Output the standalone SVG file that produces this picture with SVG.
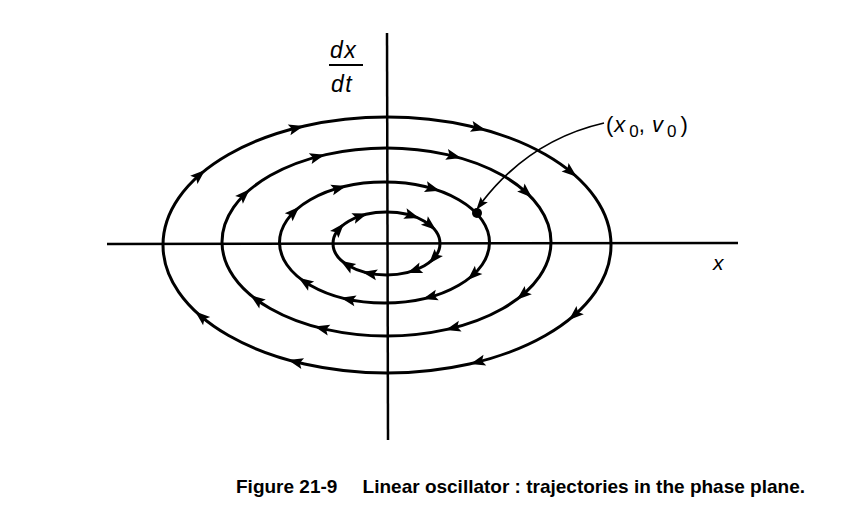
<svg xmlns="http://www.w3.org/2000/svg" xmlns:xlink="http://www.w3.org/1999/xlink" width="860" height="529" viewBox="0 0 860 529">
<style>
.traj{fill:none;stroke:#000;stroke-width:3}
.axis{fill:none;stroke:#000;stroke-width:2.5}
.lead{fill:none;stroke:#000;stroke-width:1.7}
.lbl{font-family:"Liberation Sans",Arial,sans-serif;font-style:italic;fill:#000}
.up{font-style:normal}
.cap{font-family:"Liberation Sans",Arial,sans-serif;font-weight:bold;fill:#000;font-size:19px}
</style>
<defs>
<path id="ah" d="M8,0 L-7,-5.5 L-4,0 L-7,5.5 Z" fill="#000"/>
<path id="lah" d="M6,0 L-7,-4.5 L-4.5,0 L-7,4.5 Z" fill="#000"/>
</defs>
<rect width="860" height="529" fill="#fff"/>
<g id="axes">
<line class="axis" x1="107" y1="244" x2="738" y2="243"/>
<line class="axis" x1="387" y1="33" x2="388" y2="440"/>
<text class="lbl" x="713" y="270" font-size="21">x</text>
<g id="ylabel">
<text class="lbl" x="330" y="58" font-size="23" letter-spacing="1.5">dx</text>
<line x1="329" y1="65" x2="363" y2="65" stroke="#000" stroke-width="1.8"/>
<text class="lbl" x="331" y="92" font-size="23" letter-spacing="1.5">dt</text>
</g>
</g>
<g id="trajectories">
<g id="orbit4">
<ellipse class="traj" cx="387" cy="245" rx="224" ry="128"/>
<use xlink:href="#ah" transform="translate(199.1,175.3) rotate(-41.4)"/>
<use xlink:href="#ah" transform="translate(295.9,128.1) rotate(-14.3)"/>
<use xlink:href="#ah" transform="translate(478.1,128.1) rotate(14.3)"/>
<use xlink:href="#ah" transform="translate(570.5,171.6) rotate(39.2)"/>
<use xlink:href="#ah" transform="translate(574.9,314.7) rotate(138.6)"/>
<use xlink:href="#ah" transform="translate(478.1,361.9) rotate(165.7)"/>
<use xlink:href="#ah" transform="translate(295.9,361.9) rotate(194.3)"/>
<use xlink:href="#ah" transform="translate(201.3,316.6) rotate(220.3)"/>
</g>
<g id="orbit3">
<ellipse class="traj" cx="386.5" cy="242" rx="164.5" ry="94"/>
<use xlink:href="#ah" transform="translate(244,195) rotate(-44.7)"/>
<use xlink:href="#ah" transform="translate(317,156.8) rotate(-14.9)"/>
<use xlink:href="#ah" transform="translate(453.4,156.1) rotate(14.3)"/>
<use xlink:href="#ah" transform="translate(526,192.2) rotate(42.4)"/>
<use xlink:href="#ah" transform="translate(522.9,294.6) rotate(139.7)"/>
<use xlink:href="#ah" transform="translate(453.4,327.9) rotate(165.7)"/>
<use xlink:href="#ah" transform="translate(322.2,328.5) rotate(193.6)"/>
<use xlink:href="#ah" transform="translate(256.9,299.9) rotate(216.2)"/>
</g>
<g id="orbit2">
<ellipse class="traj" cx="384.5" cy="242.5" rx="105" ry="60.5"/>
<use xlink:href="#ah" transform="translate(293.6,212.3) rotate(-45)"/>
<use xlink:href="#ah" transform="translate(338.5,188.1) rotate(-15.7)"/>
<use xlink:href="#ah" transform="translate(432.2,188.6) rotate(16.4)"/>
<use xlink:href="#ah" transform="translate(473.5,274.6) rotate(137.3)"/>
<use xlink:href="#ah" transform="translate(430.5,296.9) rotate(164.3)"/>
<use xlink:href="#ah" transform="translate(348.6,299.4) rotate(191.8)"/>
<use xlink:href="#ah" transform="translate(305.3,282.2) rotate(213.6)"/>
</g>
<g id="orbit1">
<ellipse class="traj" cx="386.5" cy="243.5" rx="53.5" ry="31.5"/>
<use xlink:href="#ah" transform="translate(338.8,229.2) rotate(-49.1)"/>
<use xlink:href="#ah" transform="translate(359.8,216.2) rotate(-18.8)"/>
<use xlink:href="#ah" transform="translate(411.6,215.7) rotate(17.4)"/>
<use xlink:href="#ah" transform="translate(429.8,225) rotate(39.1)"/>
<use xlink:href="#ah" transform="translate(434.2,257.8) rotate(130.9)"/>
<use xlink:href="#ah" transform="translate(414.8,270.2) rotate(159.8)"/>
<use xlink:href="#ah" transform="translate(370,273.5) rotate(190.8)"/>
<use xlink:href="#ah" transform="translate(347.4,265) rotate(212.2)"/>
</g>
</g>
<g id="initial-point">
<circle cx="477" cy="213" r="5" fill="#000"/>
<path class="lead" d="M604,123 Q530,140 482,202"/>
<use xlink:href="#lah" transform="translate(480,205) rotate(127.6)"/>
<text class="lbl up" x="606" y="132" font-size="22">(<tspan class="lbl" dx="1">x</tspan><tspan dx="4" dy="5" font-size="17">0</tspan><tspan dy="-5">,</tspan><tspan class="lbl" dx="7">v</tspan><tspan dx="4" dy="5" font-size="17">0</tspan><tspan dx="4" dy="-5">)</tspan></text>
</g>
<g id="caption">
<text class="cap" x="236" y="493">Figure 21-9</text>
<text class="cap" x="805" y="493" text-anchor="end">Linear oscillator : trajectories in the phase plane.</text>
</g>
</svg>
